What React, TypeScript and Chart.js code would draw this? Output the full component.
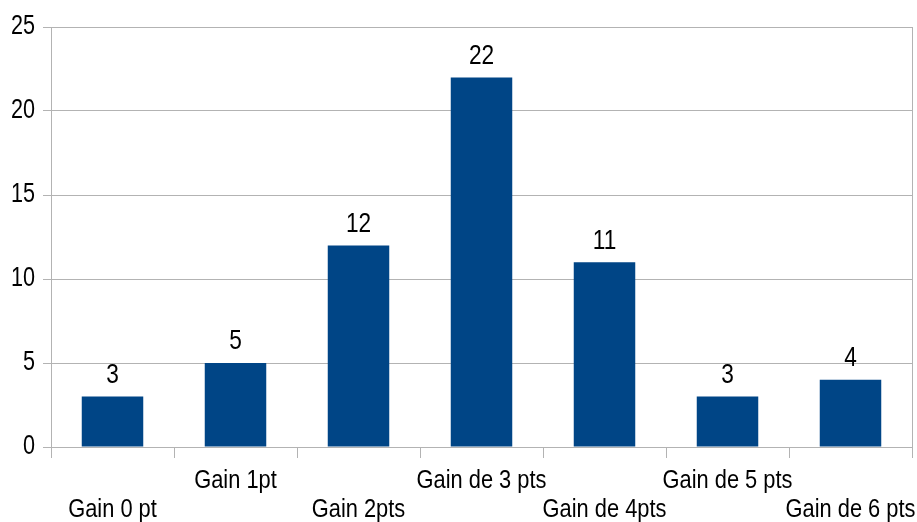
import React, { useEffect, useRef } from "react";
import { Chart, registerables } from "chart.js";

Chart.register(...registerables);

const categories = [
  "Gain 0 pt",
  "Gain 1pt",
  "Gain 2pts",
  "Gain de 3 pts",
  "Gain de 4pts",
  "Gain de 5 pts",
  "Gain de 6 pts",
];
const counts = [3, 5, 12, 22, 11, 3, 4];
const yMin = 0;
const yMax = 25;
const yStep = 5;

const FONT = "'Liberation Sans', Arial, sans-serif";
const GRID = "#b3b3b3";
const BAR = "#004586";
const X_TICK_LEN = 11;
const X_PAD = 8;
const X_LINE = 29;
const Y_TICK_LEN = 8;
const Y_PAD = 8;

function narrowText(ctx: any, text: string, x: number, y: number, size: number, sx: number, align: string) {
  ctx.save();
  ctx.translate(x, y);
  ctx.scale(sx, 1);
  ctx.font = `${size}px ${FONT}`;
  ctx.fillStyle = "#000";
  ctx.textAlign = align;
  ctx.textBaseline = "middle";
  ctx.fillText(text, 0, 0);
  ctx.restore();
}

const narrowLabels = {
  id: "narrowLabels",
  afterDraw(chart: any) {
    const ctx = chart.ctx;
    const xs = chart.scales.x;
    const ys = chart.scales.y;
    // x tick labels, staggered in two rows
    xs.ticks.forEach((_t: any, i: number) => {
      const x = xs.getPixelForTick(i);
      const row = i % 2 === 0 ? 1 : 0;
      const y = xs.top + X_TICK_LEN + X_PAD + X_LINE / 2 + row * X_LINE;
      narrowText(ctx, categories[i], x, y, 26, 0.84, "center");
    });
    // y tick labels
    ys.ticks.forEach((t: any) => {
      const y = ys.getPixelForValue(t.value);
      narrowText(ctx, String(t.value), ys.right - Y_TICK_LEN - Y_PAD, y, 27, 0.8, "right");
    });
    // value labels above bars
    const meta = chart.getDatasetMeta(0);
    const data = chart.data.datasets[0].data;
    meta.data.forEach((bar: any, i: number) => {
      narrowText(ctx, String(data[i]), bar.x, bar.y - 21, 27, 0.84, "center");
    });
  },
};

export default function App() {
  const ref = useRef<HTMLCanvasElement | null>(null);
  useEffect(() => {
    if (!ref.current) return;
    const chart = new Chart(ref.current, {
      type: "bar",
      data: {
        labels: categories,
        datasets: [
          {
            data: counts,
            backgroundColor: BAR,
            borderWidth: 0,
            categoryPercentage: 1,
            barPercentage: 0.5,
          },
        ],
      },
      options: {
        responsive: false,
        animation: false,
        devicePixelRatio: 1,
        layout: { padding: { left: 12, right: 5, top: 27, bottom: 0 } },
        plugins: {
          legend: { display: false },
          tooltip: { enabled: false },
          title: { display: false },
        },
        scales: {
          x: {
            offset: true,
            grid: {
              offset: true,
              drawOnChartArea: true,
              drawTicks: true,
              tickLength: X_TICK_LEN,
              color: (c: any) => (c.type === "tick" ? "rgba(0,0,0,0)" : GRID),
              tickColor: GRID,
            },
            border: { display: true, color: GRID },
            ticks: {
              color: "rgba(0,0,0,0)",
              padding: X_PAD,
              autoSkip: false,
              maxRotation: 0,
              minRotation: 0,
              font: { family: FONT, size: 26, lineHeight: X_LINE / 26 },
              callback: (_v: any, i: number) =>
                i % 2 === 0 ? ["", categories[i]] : [categories[i]],
            },
            afterFit: (scale: any) => {
              scale.paddingLeft = 0;
              scale.paddingRight = 0;
              scale.height = 75;
            },
          },
          y: {
            min: yMin,
            max: yMax,
            grid: { color: GRID, tickLength: Y_TICK_LEN, tickColor: GRID },
            border: { display: true, color: GRID },
            ticks: {
              stepSize: yStep,
              color: "rgba(0,0,0,0)",
              padding: Y_PAD,
              font: { family: FONT, size: 27 },
            },
            afterFit: (scale: any) => {
              scale.width = 39;
            },
          },
        },
      },
      plugins: [narrowLabels],
    });
    return () => chart.destroy();
  }, []);
  return (
    <div style={{ position: "absolute", left: 0, top: 0, width: 917, height: 522, background: "#fff" }}>
      <canvas ref={ref} width={917} height={522} style={{ display: "block" }} />
    </div>
  );
}
